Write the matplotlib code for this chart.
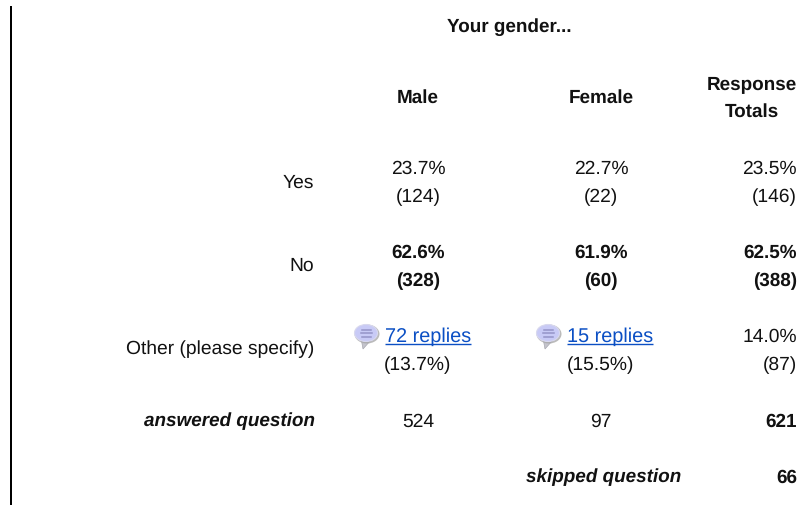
import matplotlib
matplotlib.use("Agg")
import matplotlib.pyplot as plt
from matplotlib.patches import Ellipse, Polygon

plt.rcParams['font.family'] = ['Liberation Sans', 'DejaVu Sans']
plt.rcParams['text.hinting'] = 'no_hinting'
plt.rcParams['text.hinting_factor'] = 8

title = "Your gender..."
columns = ["Male", "Female", "Response\nTotals"]
rows = ["Yes", "No", "Other (please specify)"]
yes_vals = [("23.7%", "(124)"), ("22.7%", "(22)"), ("23.5%", "(146)")]
no_vals = [("62.6%", "(328)"), ("61.9%", "(60)"), ("62.5%", "(388)")]
other_links = ["72 replies", "15 replies"]
other_pcts = ["(13.7%)", "(15.5%)"]
other_total = ("14.0%", "(87)")
answered_label = "answered question"
answered_vals = ["524", "97", "621"]
skipped_label = "skipped question"
skipped_val = "66"

W, H = 801, 505
fig = plt.figure(figsize=(W / 100, H / 100), dpi=100, facecolor="white")
ax = fig.add_axes([0, 0, 1, 1])
ax.set_xlim(0, W)
ax.set_ylim(H, 0)
ax.axis("off")

FS = 13.9
FS_BOLD = 13.6
INK = "#111111"
LINK = "#0b4fc4"
COL_X = [418, 601]
TOT_R = 797

def t(x, y, s, ha="center", weight="normal", style="normal", color=INK, ls=1.72, fs=None):
    if fs is None:
        fs = FS_BOLD if weight == "bold" else FS
    return ax.text(x, y + 0.5, s, ha=ha, va="center", fontsize=fs, fontweight=weight,
                   fontstyle=style, color=color, linespacing=ls, multialignment="center")

ax.plot([11, 11], [6, 505], color="black", lw=1.44, solid_capstyle="butt")

t(509, 27, title, weight="bold")
t(COL_X[0], 97, columns[0], weight="bold")
t(COL_X[1], 97, columns[1], weight="bold")
t(752, 98, columns[2], weight="bold")

t(314, 182, rows[0], ha="right")
t(314, 265, rows[1], ha="right")
t(314, 349, rows[2], ha="right")

for x, (a, b) in zip(COL_X, yes_vals[:2]):
    t(x, 168, a); t(x, 197, b)
t(TOT_R, 168, yes_vals[2][0], ha="right"); t(TOT_R, 197, yes_vals[2][1], ha="right")

for x, (a, b) in zip(COL_X, no_vals[:2]):
    t(x, 252, a, weight="bold"); t(x, 281, b, weight="bold")
t(TOT_R, 252, no_vals[2][0], ha="right", weight="bold")
t(TOT_R, 281, no_vals[2][1], ha="right", weight="bold")

def icon(cx, cy):
    ax.add_patch(Polygon([[cx - 5, cy + 5], [cx - 3, cy + 16], [cx + 5, cy + 7]],
                         closed=True, fc="#c4c4cc", ec="#a8a8b0", lw=0.5, zorder=2))
    ax.add_patch(Ellipse((cx + 1, cy + 1), 25, 19, fc="#a5a5a5", ec="none", alpha=0.75, zorder=2))
    ax.add_patch(Ellipse((cx, cy), 23, 17, fc="#c8caf6", ec="#d8d8ee", lw=0.8, zorder=3))
    for dy, hw in zip((-3.5, 0, 3.5), (4.5, 5.5, 4.5)):
        ax.plot([cx - hw, cx + hw], [cy + dy, cy + dy], color="#9494c8", lw=1.1, zorder=4)

for ix, lx, rx, label in zip((366, 548), (385, 567), (471, 653), other_links):
    icon(ix, 333)
    t(lx, 336, label, ha="left", color=LINK, fs=14.3)
    ax.plot([lx, rx], [343.5, 343.5], color=LINK, lw=1, solid_capstyle="butt")
t(COL_X[0], 365, other_pcts[0]); t(COL_X[1], 365, other_pcts[1])
t(TOT_R, 336, other_total[0], ha="right"); t(TOT_R, 365, other_total[1], ha="right")

t(315, 421, answered_label, ha="right", weight="bold", style="italic")
t(COL_X[0], 421, answered_vals[0]); t(COL_X[1], 421, answered_vals[1])
t(TOT_R, 421, answered_vals[2], ha="right", weight="bold")
t(681, 477, skipped_label, ha="right", weight="bold", style="italic")
t(TOT_R, 477, skipped_val, ha="right", weight="bold")

fig.savefig("out.png", dpi=100, facecolor="white")
